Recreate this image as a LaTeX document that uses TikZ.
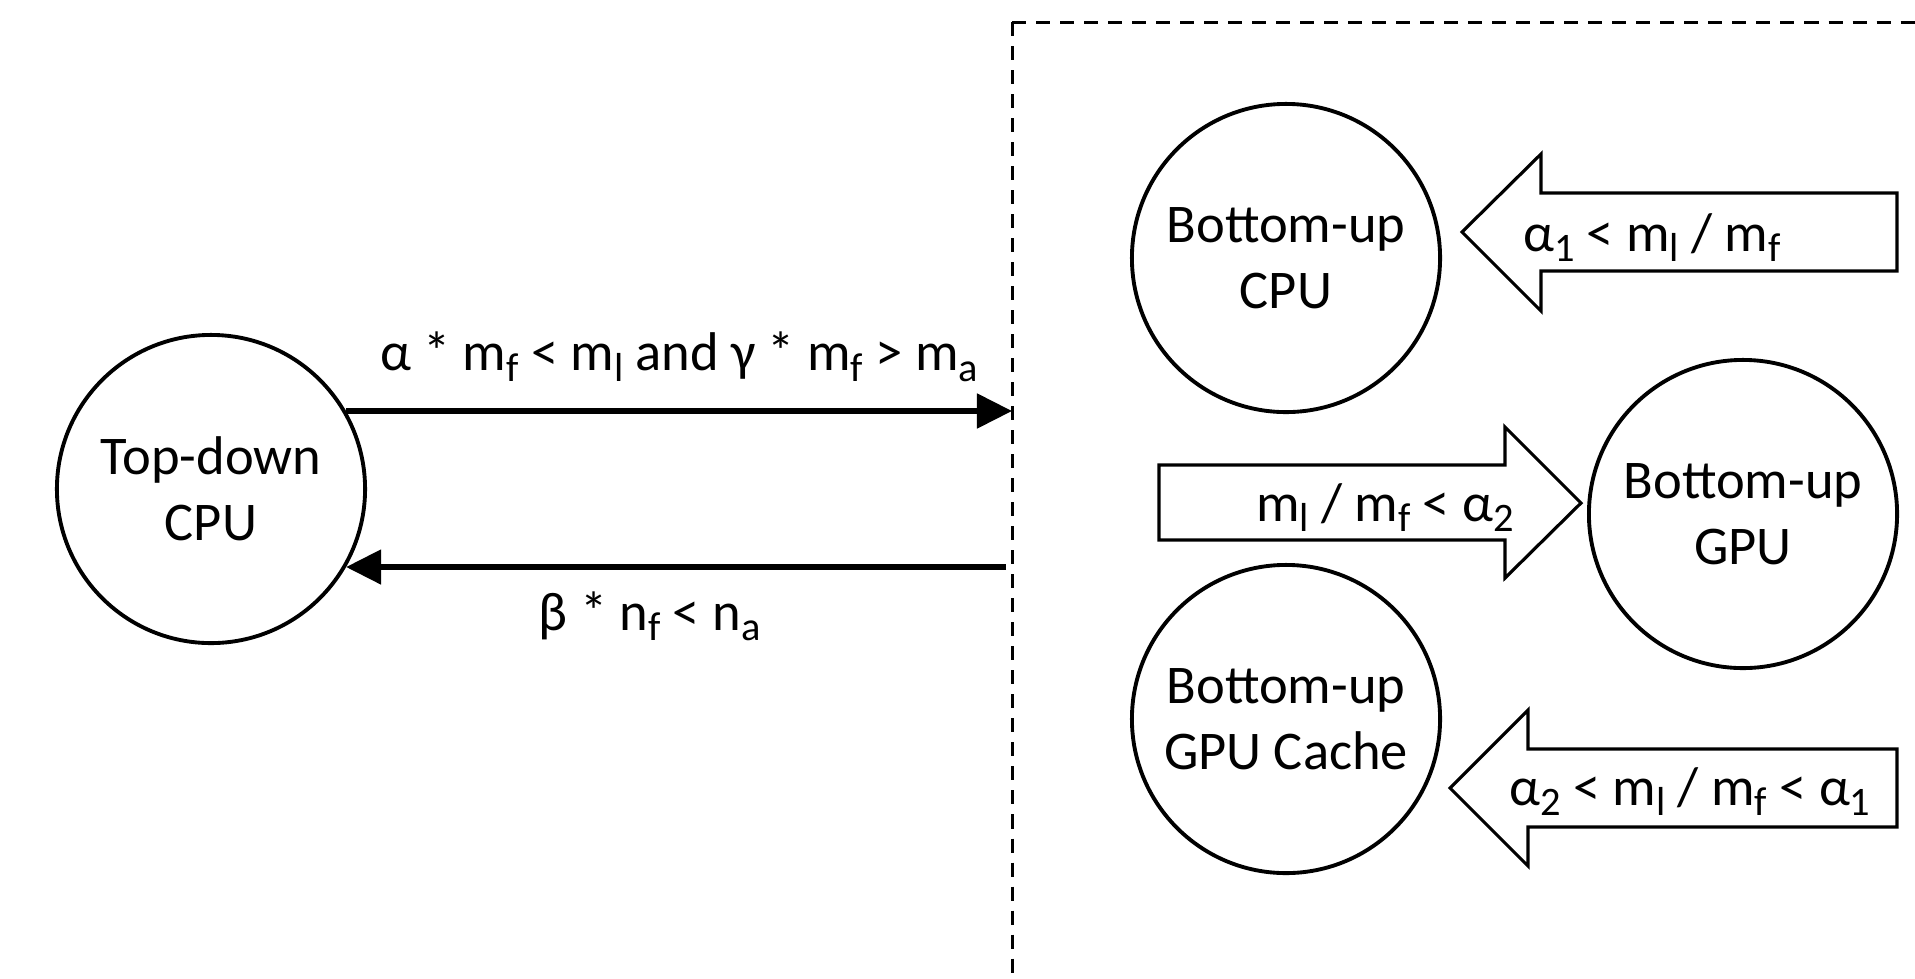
\documentclass[tikz,border=0pt]{standalone}
\usepackage{fontspec}
\setmainfont{Carlito}
\usetikzlibrary{positioning, arrows.meta}
\newcommand{\lo}[1]{\raisebox{-3pt}{\fontsize{11.5}{12}\selectfont #1}}

\begin{document}
\begin{tikzpicture}[x=0.01cm,y=-0.01cm,
  state/.style={draw, circle, line width=1.1pt, minimum size=3.08cm, inner sep=0pt,
                align=center, font=\fontsize{15.5}{18.8}\selectfont},
  cond/.style={font=\fontsize{15.5}{18.8}\selectfont, anchor=base, inner sep=0pt},
  flow/.style={-{Triangle[length=0.35cm, width=0.34cm]}, line width=1.45pt},
  bigarr/.style={draw, line width=0.9pt, fill=white, line join=miter},
  frame/.style={dash pattern=on 0.14cm off 0.10cm, line width=0.85pt}]

  \useasboundingbox (0,0) rectangle (1915,978);

  %% Top-down side
  \node[state] (td) at (211,489) {Top-down\\CPU};

  %% Dashed region (bottom-up side)
  \coordinate (bx) at (1012,22);
  \draw[frame] (bx) -- (1012,1000);
  \draw[frame] (bx) -- (1940,22);

  %% Switching arrows
  \draw[flow] (td.30) -- node[cond, yshift=0.40cm]
    {α * m\lo{f} < m\lo{l} and γ * m\lo{f} > m\lo{a}} (td.30 -| bx);
  \path (td.-30 -| bx) ++(-6,0) coordinate (back);
  \draw[flow] (back) -- node[cond, pos=0.54, yshift=-0.63cm]
    {β * n\lo{f} < n\lo{a}} (td.-30);

  %% Bottom-up states
  \node[state] (bucpu) at (1286,258) {Bottom-up\\CPU};
  \node[state] (bugpu) at (1743,514) {Bottom-up\\GPU};
  \node[state] (bucache) at (1286,719) {Bottom-up\\GPU Cache};

  %% Block arrows
  \draw[bigarr] (1897,193) -- (1541,193) -- (1541,154) -- (1462,232) -- (1541,311) -- (1541,271) -- (1897,271) -- cycle;
  \node[cond] (c1) at (1652,251) {α\lo{1} < m\lo{l} / m\lo{f}};

  \draw[bigarr] (1159,465) -- (1505,465) -- (1505,427) -- (1581,503) -- (1505,578) -- (1505,540) -- (1159,540) -- cycle;
  \node[cond] (c2) at (1385,521) {m\lo{l} / m\lo{f} < α\lo{2}};

  \draw[bigarr] (1897,749) -- (1528,749) -- (1528,710) -- (1450,788) -- (1528,866) -- (1528,827) -- (1897,827) -- cycle;
  \node[cond] (c3) at (1690,805) {α\lo{2} < m\lo{l} / m\lo{f} < α\lo{1}};
\end{tikzpicture}
\end{document}
